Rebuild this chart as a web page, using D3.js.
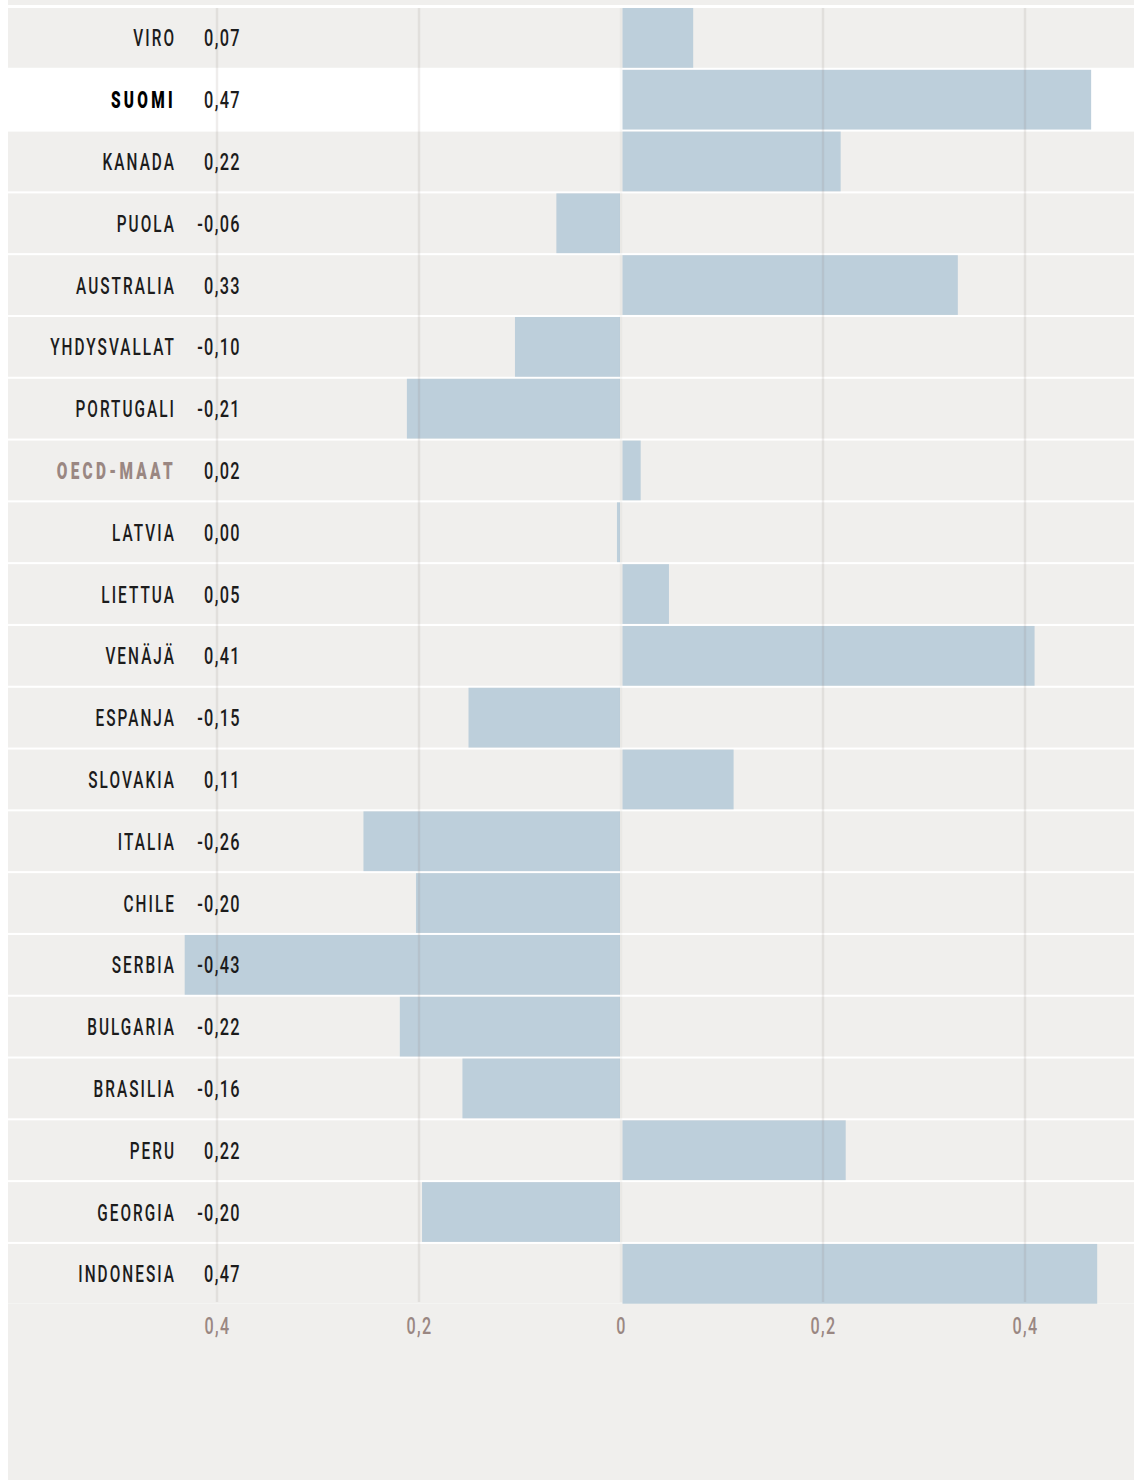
<!DOCTYPE html>
<html><head><meta charset="utf-8">
<script src="https://cdn.jsdelivr.net/npm/d3@7"></script>
<style>
html,body{margin:0;padding:0;background:#fff;}
svg{display:block;}
text{font-family:Roboto,"Liberation Sans",sans-serif;}
</style></head>
<body>
<svg id="chart" width="1134" height="1480"></svg>
<script>
const countries = ["VIRO","SUOMI","KANADA","PUOLA","AUSTRALIA","YHDYSVALLAT","PORTUGALI","OECD-MAAT","LATVIA","LIETTUA","VENÄJÄ","ESPANJA","SLOVAKIA","ITALIA","CHILE","SERBIA","BULGARIA","BRASILIA","PERU","GEORGIA","INDONESIA"];
const values = [0.070,0.464,0.216,-0.063,0.332,-0.104,-0.211,0.018,-0.003,0.046,0.408,-0.150,0.110,-0.254,-0.202,-0.431,-0.218,-0.156,0.221,-0.196,0.470];
const valueLabels = ["0,07","0,47","0,22","-0,06","0,33","-0,10","-0,21","0,02","0,00","0,05","0,41","-0,15","0,11","-0,26","-0,20","-0,43","-0,22","-0,16","0,22","-0,20","0,47"];
const tickValues = [-0.4,-0.2,0,0.2,0.4];
const tickLabels = ["0,4","0,2","0","0,2","0,4"];
const highlight = "SUOMI";
const reference = "OECD-MAAT";

const svg = d3.select("#chart");
const W = 1134, H = 1480;
const x = d3.scaleLinear().domain([-0.4,0.4]).range([217,1025]);
const y = d3.scaleBand().domain(countries).range([8,1303.7]).paddingInner(0.033).paddingOuter(0).align(0);

// backgrounds
svg.append("rect").attr("x",8).attr("y",0).attr("width",W-8).attr("height",5).attr("fill","#f0efed");
svg.append("rect").attr("x",8).attr("y",1304).attr("width",W-8).attr("height",H-1304).attr("fill","#f0efed");

svg.append("g").selectAll("rect").data(countries).join("rect")
  .attr("x",8).attr("width",W-8)
  .attr("y",d=>y(d)).attr("height",y.bandwidth())
  .attr("fill",d=>d===highlight?"#ffffff":"#f0efed");

// bars
svg.append("g").selectAll("rect").data(values).join("rect")
  .attr("x",(v)=> v>=0 ? x(0)+1.5 : x(v)-1)
  .attr("width",(v)=> Math.max(2.5, Math.abs(x(v)-x(0))))
  .attr("y",(v,i)=>y(countries[i]))
  .attr("height",y.bandwidth())
  .attr("fill","#bdcfdb");

// gridlines
svg.append("g").selectAll("line").data(tickValues).join("line")
  .attr("x1",d=>x(d)).attr("x2",d=>x(d))
  .attr("y1",8).attr("y2",1302)
  .attr("stroke",d=>d===0?"rgba(120,110,100,0.05)":"rgba(120,110,100,0.12)")
  .attr("stroke-width",2.5);

// labels
const lab = svg.append("g");
countries.forEach((c,i)=>{
  const cy = y(c)+y.bandwidth()/2+8.5;
  const special = c===highlight||c===reference;
  lab.append("text")
    .attr("transform",`translate(176,${cy}) scale(0.64,1)`)
    .attr("text-anchor","end")
    .attr("font-size",24)
    .attr("letter-spacing",special?5.2:3.2)
    .attr("font-weight",special?"900":"500")
    .attr("fill",c===reference?"#9a8782":(c===highlight?"#000":"#1c1c1c"))
    .text(c);
  lab.append("text")
    .attr("transform",`translate(241,${cy}) scale(0.68,1)`)
    .attr("text-anchor","end")
    .attr("font-size",24)
    .attr("font-weight","500")
    .attr("letter-spacing",2)
    .attr("fill","#1c1c1c")
    .text(valueLabels[i]);
});

// axis
const axis = d3.axisBottom(x).tickValues(tickValues).tickSize(0).tickFormat((d,i)=>tickLabels[i]);
const ag = svg.append("g").attr("transform","translate(0,1326)").call(axis);
ag.attr("font-family",null).attr("font-size",null);
ag.select(".domain").remove();
ag.selectAll("text")
  .attr("y",0).attr("dy","0.36em")
  .attr("transform","scale(0.7,1)")
  .attr("fill","#9a8782")
  .style("font-family","Roboto")
  .style("font-weight","500")
  .style("font-size","23px")
  .style("letter-spacing","2px");
</script>
</body></html>
